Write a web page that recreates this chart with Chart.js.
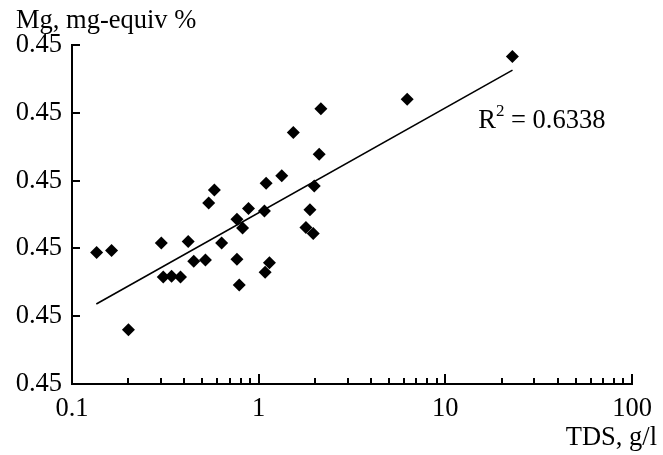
<!DOCTYPE html>
<html>
<head>
<meta charset="utf-8">
<title>Mg vs TDS</title>
<script src="https://cdn.jsdelivr.net/npm/chart.js@4.4.1/dist/chart.umd.min.js"></script>
<style>
  html, body { margin: 0; padding: 0; background: #fff; }
</style>
</head>
<body>
<canvas id="mgChart" width="663" height="455"></canvas>
<script>
// samples: total dissolved solids (g/l) and Mg share
const tds = [0.1355, 0.1629, 0.2006, 0.3009, 0.3083, 0.3415, 0.3814, 0.4193,
             0.4491, 0.5185, 0.5400, 0.5791, 0.6333, 0.7650, 0.7870, 0.7650,
             0.8196, 0.8822, 1.074, 1.096, 1.083, 1.142, 1.329, 1.882,
             1.792, 1.960, 1.985, 2.110, 1.533, 2.154, 6.247, 22.86];
const mg = [0.44944, 0.44947, 0.44830, 0.44958, 0.44908, 0.44909, 0.44908, 0.44960,
            0.44931, 0.44933, 0.45017, 0.45036, 0.44958, 0.44934, 0.44896, 0.44993,
            0.44980, 0.45009, 0.45005, 0.45046, 0.44915, 0.44929, 0.45057, 0.45007,
            0.44981, 0.44972, 0.45042, 0.45089, 0.45121, 0.45156, 0.45170, 0.45233];

// logarithmic trend line end points
const fitTds = [0.135, 22.9];
const fitMg = [0.44868, 0.45213];
const rSquared = '0.6338';

const yTicks = [0.4475, 0.4485, 0.4495, 0.4505, 0.4515, 0.4525];
const xDecades = [0.1, 1, 10, 100];

const serif = "'Liberation Serif', 'Times New Roman', serif";
const fontSize = 26.5;

const points = tds.map((v, i) => ({ x: v, y: mg[i] }));
const fitLine = fitTds.map((v, i) => ({ x: v, y: fitMg[i] }));

// inward tick marks plus the free-standing captions
const decorations = {
  id: 'decorations',
  afterDraw(chart) {
    const { ctx, chartArea: area, scales: { x, y } } = chart;
    ctx.save();
    ctx.strokeStyle = '#000';
    ctx.lineWidth = 2;
    ctx.beginPath();
    y.ticks.forEach((t, i) => {
      const py = Math.round(y.getPixelForTick(i));
      ctx.moveTo(area.left, py);
      ctx.lineTo(area.left + 8, py);
    });
    x.ticks.forEach((t, i) => {
      const px = Math.round(x.getPixelForTick(i));
      const len = t.major ? 10 : 6;
      ctx.moveTo(px, area.bottom);
      ctx.lineTo(px, area.bottom - len);
    });
    ctx.stroke();

    ctx.fillStyle = '#000';
    ctx.font = fontSize + 'px ' + serif;
    ctx.textBaseline = 'alphabetic';
    ctx.textAlign = 'left';
    ctx.fillText('Mg, mg-equiv %', area.left - 56, area.top - 17);
    ctx.textAlign = 'right';
    ctx.fillText('TDS, g/l', chart.width - 6, chart.height - 10);

    // R² caption anchored in data space
    let rx = x.getPixelForValue(15);
    const ry = y.getPixelForValue(0.45128);
    ctx.textAlign = 'left';
    ctx.fillText('R', rx, ry);
    rx += ctx.measureText('R').width;
    ctx.font = '17px ' + serif;
    ctx.fillText('2', rx, ry - 12);
    rx += ctx.measureText('2').width;
    ctx.font = fontSize + 'px ' + serif;
    ctx.fillText(' = ' + rSquared, rx, ry);
    ctx.restore();
  }
};

new Chart(document.getElementById('mgChart'), {
  type: 'scatter',
  data: {
    datasets: [
      {
        label: 'samples',
        data: points,
        pointStyle: 'rectRot',
        pointRadius: 6.5,
        pointHoverRadius: 6.5,
        backgroundColor: '#000',
        borderColor: '#000',
        borderWidth: 0
      },
      {
        type: 'line',
        label: 'trend',
        data: fitLine,
        borderColor: '#000',
        borderWidth: 1.6,
        pointRadius: 0,
        fill: false
      }
    ]
  },
  options: {
    responsive: false,
    devicePixelRatio: 1,
    animation: false,
    layout: { padding: { top: 45, right: 31, left: 0, bottom: 0 } },
    plugins: {
      legend: { display: false },
      tooltip: { enabled: false }
    },
    scales: {
      x: {
        type: 'logarithmic',
        min: 0.1,
        max: 100,
        afterBuildTicks(scale) {
          const ticks = [];
          for (let d = 0; d < xDecades.length - 1; d++) {
            for (let k = 1; k <= 9; k++) {
              ticks.push({ value: xDecades[d] * k, major: k === 1 });
            }
          }
          ticks.push({ value: xDecades[xDecades.length - 1], major: true });
          scale.ticks = ticks;
        },
        afterFit(scale) { scale.height = 71; },
        grid: { display: false, drawTicks: false },
        border: { display: true, color: '#000', width: 2 },
        ticks: {
          autoSkip: false,
          maxRotation: 0,
          padding: 9,
          color: '#000',
          font: { family: serif, size: fontSize },
          callback(value) {
            return xDecades.includes(value) ? String(value) : '';
          }
        }
      },
      y: {
        type: 'linear',
        min: yTicks[0],
        max: yTicks[yTicks.length - 1],
        afterBuildTicks(scale) {
          scale.ticks = yTicks.map(v => ({ value: v }));
        },
        afterFit(scale) { scale.width = 72; },
        grid: { display: false, drawTicks: false },
        border: { display: true, color: '#000', width: 2 },
        ticks: {
          padding: 10,
          color: '#000',
          font: { family: serif, size: fontSize },
          callback(value) { return value.toFixed(2); }
        }
      }
    }
  },
  plugins: [decorations]
});
</script>
</body>
</html>
